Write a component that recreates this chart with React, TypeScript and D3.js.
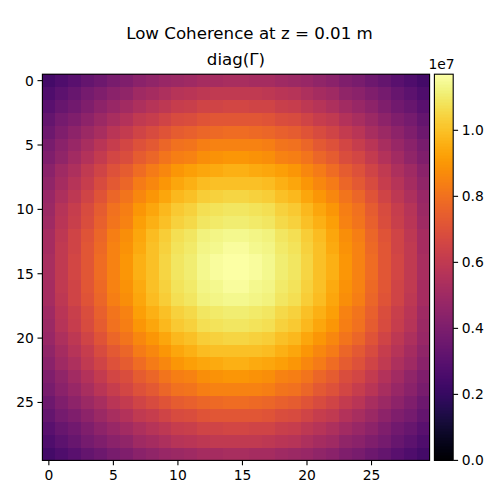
import React from "react";
import * as d3 from "d3";

const FONT = "'DejaVu Sans', sans-serif";
const titleText = "Low Coherence at z = 0.01 m";
const subtitleText = "diag(Γ)";
const axisTicks = [0, 5, 10, 15, 20, 25];
const colorTicks = [0, 0.2, 0.4, 0.6, 0.8, 1.0];
const colorMax = 1.17; // in units of 1e7
const exponentLabel = "1e7";

// diag(Γ), in units of 1e5
const grid: number[][] = [
  [24,27,30,33,36,39,41,44,46,48,49,50,52,52,53,53,52,52,50,49,48,46,44,41,39,36,33,30,27,24],
  [27,31,34,38,41,44,46,50,52,54,57,58,59,60,60,60,60,59,58,57,54,52,50,46,44,41,38,34,31,27],
  [30,34,37,41,45,48,51,54,57,59,62,63,65,65,66,66,65,65,63,62,59,57,54,51,48,45,41,37,34,30],
  [33,38,41,45,49,53,56,60,62,65,68,69,71,72,72,72,72,71,69,68,65,62,60,56,53,49,45,41,38,33],
  [36,41,45,49,53,58,61,65,68,71,74,75,77,78,79,79,78,77,75,74,71,68,65,61,58,53,49,45,41,36],
  [39,44,48,53,58,62,66,70,73,77,80,81,84,85,85,85,85,84,81,80,77,73,70,66,62,58,53,48,44,39],
  [41,46,51,56,61,66,69,74,77,81,84,85,88,89,90,90,89,88,85,84,81,77,74,69,66,61,56,51,46,41],
  [44,50,54,60,65,70,74,79,83,86,90,92,94,95,96,96,95,94,92,90,86,83,79,74,70,65,60,54,50,44],
  [46,52,57,62,68,73,77,83,86,90,94,96,99,100,100,100,100,99,96,94,90,86,83,77,73,68,62,57,52,46],
  [48,54,59,65,71,77,81,86,90,94,98,100,103,104,105,105,104,103,100,98,94,90,86,81,77,71,65,59,54,48],
  [49,57,62,68,74,80,84,90,94,98,102,104,107,108,109,109,108,107,104,102,98,94,90,84,80,74,68,62,57,49],
  [50,58,63,69,75,81,85,92,96,100,104,106,109,110,111,111,110,109,106,104,100,96,92,85,81,75,69,63,58,50],
  [52,59,65,71,77,84,88,94,99,103,107,109,112,113,114,114,113,112,109,107,103,99,94,88,84,77,71,65,59,52],
  [52,60,65,72,78,85,89,95,100,104,108,110,113,114,116,116,114,113,110,108,104,100,95,89,85,78,72,65,60,52],
  [53,60,66,72,79,85,90,96,100,105,109,111,114,116,117,117,116,114,111,109,105,100,96,90,85,79,72,66,60,53],
  [53,60,66,72,79,85,90,96,100,105,109,111,114,116,117,117,116,114,111,109,105,100,96,90,85,79,72,66,60,53],
  [52,60,65,72,78,85,89,95,100,104,108,110,113,114,116,116,114,113,110,108,104,100,95,89,85,78,72,65,60,52],
  [52,59,65,71,77,84,88,94,99,103,107,109,112,113,114,114,113,112,109,107,103,99,94,88,84,77,71,65,59,52],
  [50,58,63,69,75,81,85,92,96,100,104,106,109,110,111,111,110,109,106,104,100,96,92,85,81,75,69,63,58,50],
  [49,57,62,68,74,80,84,90,94,98,102,104,107,108,109,109,108,107,104,102,98,94,90,84,80,74,68,62,57,49],
  [48,54,59,65,71,77,81,86,90,94,98,100,103,104,105,105,104,103,100,98,94,90,86,81,77,71,65,59,54,48],
  [46,52,57,62,68,73,77,83,86,90,94,96,99,100,100,100,100,99,96,94,90,86,83,77,73,68,62,57,52,46],
  [44,50,54,60,65,70,74,79,83,86,90,92,94,95,96,96,95,94,92,90,86,83,79,74,70,65,60,54,50,44],
  [41,46,51,56,61,66,69,74,77,81,84,85,88,89,90,90,89,88,85,84,81,77,74,69,66,61,56,51,46,41],
  [39,44,48,53,58,62,66,70,73,77,80,81,84,85,85,85,85,84,81,80,77,73,70,66,62,58,53,48,44,39],
  [36,41,45,49,53,58,61,65,68,71,74,75,77,78,79,79,78,77,75,74,71,68,65,61,58,53,49,45,41,36],
  [33,38,41,45,49,53,56,60,62,65,68,69,71,72,72,72,72,71,69,68,65,62,60,56,53,49,45,41,38,33],
  [30,34,37,41,45,48,51,54,57,59,62,63,65,65,66,66,65,65,63,62,59,57,54,51,48,45,41,37,34,30],
  [27,31,34,38,41,44,46,50,52,54,57,58,59,60,60,60,60,59,58,57,54,52,50,46,44,41,38,34,31,27],
  [24,27,30,33,36,39,41,44,46,48,49,50,52,52,53,53,52,52,50,49,48,46,44,41,39,36,33,30,27,24],
];

const L = 42.4, R = 429.6, T = 74.2, B = 460.4;
const CL = 434.4, CR = 453.2;
const TICK = 4.9;
const SW = 1.1;

export default function App() {
  const x = d3.scaleLinear().domain([-0.5, 29.5]).range([L, R]);
  const y = d3.scaleLinear().domain([-0.5, 29.5]).range([T, B]);
  const norm = d3.scaleLinear().domain([0, colorMax * 100]).range([0, 1]).clamp(true);
  const cy = d3.scaleLinear().domain([0, colorMax]).range([B, T]);
  const steps = d3.range(256);
  const stepY = d3.scaleLinear().domain([0, 256]).range([B, T]);
  const textStyle = { fontFamily: FONT, fill: "#000" } as const;
  return (
    <svg width={500} height={500} viewBox="0 0 500 500"
      style={{ position: "absolute", left: 0, top: 0, background: "#fff" }}>
      <text x={249.5} y={39} textAnchor="middle" fontSize={16.67} style={textStyle}>{titleText}</text>
      <text x={236} y={65} textAnchor="middle" fontSize={16.67} style={textStyle}>{subtitleText}</text>

      <g shapeRendering="crispEdges">
        {grid.map((row, r) =>
          row.map((v, c) => (
            <rect key={`${r}-${c}`} x={x(c - 0.5)} y={y(r - 0.5)}
              width={x(c + 0.5) - x(c - 0.5) + 0.5} height={y(r + 0.5) - y(r - 0.5) + 0.5}
              fill={d3.interpolateInferno(norm(v))} />
          ))
        )}
      </g>
      <rect x={L} y={T} width={R - L} height={B - T} fill="none" stroke="#000" strokeWidth={SW} />
      {axisTicks.map((t) => (
        <g key={`x${t}`}>
          <line x1={x(t)} x2={x(t)} y1={B} y2={B + TICK} stroke="#000" strokeWidth={SW} />
          <text x={x(t)} y={B + 19.5} textAnchor="middle" fontSize={13.89} style={textStyle}>{t}</text>
        </g>
      ))}
      {axisTicks.map((t) => (
        <g key={`y${t}`}>
          <line x1={L - TICK} x2={L} y1={y(t)} y2={y(t)} stroke="#000" strokeWidth={SW} />
          <text x={L - 8.5} y={y(t) + 5} textAnchor="end" fontSize={13.89} style={textStyle}>{t}</text>
        </g>
      ))}

      <g shapeRendering="crispEdges">
        {steps.map((s) => (
          <rect key={s} x={CL} width={CR - CL} y={stepY(s + 1)} height={stepY(s) - stepY(s + 1) + 0.5}
            fill={d3.interpolateInferno((s + 0.5) / 256)} />
        ))}
      </g>
      <rect x={CL} y={T} width={CR - CL} height={B - T} fill="none" stroke="#000" strokeWidth={SW} />
      {colorTicks.map((t) => (
        <g key={`c${t}`}>
          <line x1={CR} x2={CR + TICK} y1={cy(t)} y2={cy(t)} stroke="#000" strokeWidth={SW} />
          <text x={CR + 8.5} y={cy(t) + 5} fontSize={13.89} style={textStyle}>{t.toFixed(1)}</text>
        </g>
      ))}
      <text x={428.5} y={69} fontSize={13.89} style={textStyle}>{exponentLabel}</text>
    </svg>
  );
}
